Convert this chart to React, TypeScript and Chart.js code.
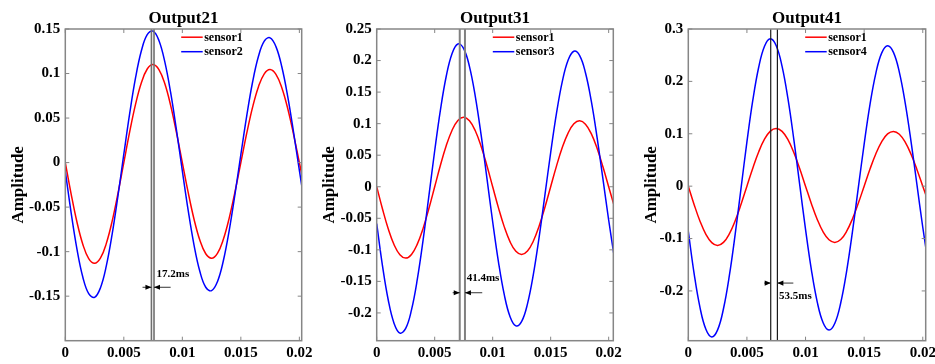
import { useEffect, useRef } from 'react';
import { Chart, registerables } from 'chart.js';

Chart.register(...registerables);

const SERIF = '"Liberation Serif", "Times New Roman", serif';

// Sample times in seconds
const time = [
  0, 0.0005, 0.001, 0.0015, 0.002, 0.0025, 0.003, 0.0035, 0.004, 0.0045,
  0.005, 0.0055, 0.006, 0.0065, 0.007, 0.0075, 0.008, 0.0085, 0.009, 0.0095,
  0.01, 0.0105, 0.011, 0.0115, 0.012, 0.0125, 0.013, 0.0135, 0.014, 0.0145,
  0.015, 0.0155, 0.016, 0.0165, 0.017, 0.0175, 0.018, 0.0185, 0.019, 0.0195,
  0.02, 0.0205,
];

// Reference sensor, shared by all three outputs
const sensor1 = [
  0, -0.0353, -0.067, -0.0919, -0.1078, -0.1131, -0.1073, -0.091, -0.066, -0.0346,
  0, 0.0344, 0.0653, 0.0896, 0.1051, 0.1102, 0.1045, 0.0887, 0.0643, 0.0337,
  0, -0.0335, -0.0636, -0.0873, -0.1024, -0.1074, -0.1019, -0.0864, -0.0626, -0.0328,
  0, 0.0327, 0.062, 0.085, 0.0997, 0.1045, 0.0991, 0.0841, 0.061, 0.032,
  0, -0.0318,
];

const sensor2 = [
  -0.0096, -0.0564, -0.0974, -0.1287, -0.1472, -0.1513, -0.1407, -0.1163, -0.0806, -0.0373,
  0.0094, 0.055, 0.095, 0.1255, 0.1436, 0.1476, 0.1371, 0.1133, 0.0787, 0.0364,
  -0.0092, -0.0536, -0.0926, -0.1223, -0.14, -0.1438, -0.1337, -0.1105, -0.0766, -0.0355,
  0.0089, 0.0522, 0.0902, 0.1191, 0.1364, 0.1401, 0.1302, 0.1076, 0.0746, 0.0345,
  -0.0087, -0.0508,
];

const sensor3 = [
  -0.0584, -0.1254, -0.1799, -0.2166, -0.2319, -0.2245, -0.1952, -0.147, -0.0847, -0.0144,
  0.057, 0.1224, 0.1755, 0.2113, 0.2262, 0.219, 0.1904, 0.1434, 0.0826, 0.0141,
  -0.0555, -0.1193, -0.1711, -0.206, -0.2205, -0.2134, -0.1856, -0.1397, -0.0805, -0.0137,
  0.0541, 0.1162, 0.1667, 0.2006, 0.2148, 0.2079, 0.1807, 0.136, 0.0784, 0.0133,
  -0.0527, -0.1131,
];

const sensor4 = [
  -0.0863, -0.1675, -0.2319, -0.2733, -0.2879, -0.2744, -0.234, -0.171, -0.0916, -0.0036,
  0.0844, 0.1636, 0.2265, 0.2671, 0.2813, 0.268, 0.2286, 0.167, 0.0894, 0.0035,
  -0.0824, -0.1598, -0.2212, -0.2607, -0.2746, -0.2617, -0.2231, -0.163, -0.0873, -0.0034,
  0.0804, 0.156, 0.2158, 0.2544, 0.268, 0.2553, 0.2177, 0.1591, 0.0852, 0.0033,
  -0.0784, -0.1521,
];

// Axis ticks
const xTicks = [0, 0.005, 0.01, 0.015, 0.02];
const yTicks21 = [-0.15, -0.1, -0.05, 0, 0.05, 0.1, 0.15];
const yTicks31 = [-0.2, -0.15, -0.1, -0.05, 0, 0.05, 0.1, 0.15, 0.2, 0.25];
const yTicks41 = [-0.2, -0.1, 0, 0.1, 0.2, 0.3];

// Peak times marked by the vertical cursors (s)
const peaks21 = [0.00736, 0.00758];
const peaks31 = [0.00716, 0.00761];
const peaks41 = [0.00703, 0.0076];

const delay21 = '17.2ms';
const delay31 = '41.4ms';
const delay41 = '53.5ms';

type PanelDef = {
  title: string;
  name: string;
  values: number[];
  yTicks: number[];
  peaks: number[];
  delay: string;
  xMax: number;
  yMin: number;
  yMax: number;
  // layout (px)
  plotLeft: number;
  plotRight: number;
  ylabelPad: number;
  cursorColor: string;
  cursorWidth: number;
  // annotation placement (data units)
  arrowY: number;
  tailL: number;
  tailR: number;
  textX: number;
  textY: number;
};

const PLOT_TOP = 29;
const PLOT_BOTTOM = 340.7;
const HEIGHT = 364;
const Y_AXIS_W = 62;
const RIGHT_PAD = 30;

const panels: PanelDef[] = [
  {
    title: 'Output21', name: 'sensor2', values: sensor2, yTicks: yTicks21, peaks: peaks21, delay: delay21,
    xMax: 0.0202, yMin: -0.2, yMax: 0.15,
    plotLeft: 65.3, plotRight: 301.7, ylabelPad: 7.5,
    cursorColor: '#6f6f6f', cursorWidth: 1.6,
    arrowY: -0.14, tailL: 0.0066, tailR: 0.009, textX: 0.0078, textY: -0.125,
  },
  {
    title: 'Output31', name: 'sensor3', values: sensor3, yTicks: yTicks31, peaks: peaks31, delay: delay31,
    xMax: 0.0204, yMin: -0.244, yMax: 0.25,
    plotLeft: 376.7, plotRight: 613.3, ylabelPad: 7.5,
    cursorColor: '#808080', cursorWidth: 2,
    arrowY: -0.168, tailL: 0.00655, tailR: 0.0091, textX: 0.00776, textY: -0.1443,
  },
  {
    title: 'Output41', name: 'sensor4', values: sensor4, yTicks: yTicks41, peaks: peaks41, delay: delay41,
    xMax: 0.02025, yMin: -0.295, yMax: 0.3,
    plotLeft: 688.3, plotRight: 925.7, ylabelPad: 17,
    cursorColor: '#1a1a1a', cursorWidth: 1.2,
    arrowY: -0.185, tailL: 0.00648, tailR: 0.00896, textX: 0.00774, textY: -0.21,
  },
];

const fmt = (v: number) => String(v);

function arrowHead(ctx: CanvasRenderingContext2D, tipX: number, y: number, dir: number) {
  ctx.beginPath();
  ctx.moveTo(tipX, y);
  ctx.lineTo(tipX - dir * 6, y - 2.6);
  ctx.lineTo(tipX - dir * 6, y + 2.6);
  ctx.closePath();
  ctx.fill();
}

function makeDecor(p: PanelDef) {
  return {
    id: 'decor',
    afterDraw(chart: any) {
      const { ctx, chartArea: a, scales } = chart;
      const xs = scales.x;
      const ys = scales.y;
      ctx.save();

      // axes box and inward tick marks
      ctx.strokeStyle = '#868686';
      ctx.lineWidth = 1.5;
      ctx.strokeRect(a.left, a.top, a.right - a.left, a.bottom - a.top);
      ctx.lineWidth = 1;
      ctx.beginPath();
      for (const v of xTicks) {
        const px = xs.getPixelForValue(v);
        ctx.moveTo(px, a.bottom);
        ctx.lineTo(px, a.bottom - 4);
        ctx.moveTo(px, a.top);
        ctx.lineTo(px, a.top + 4);
      }
      for (const v of p.yTicks) {
        const py = ys.getPixelForValue(v);
        ctx.moveTo(a.left, py);
        ctx.lineTo(a.left + 4, py);
        ctx.moveTo(a.right, py);
        ctx.lineTo(a.right - 4, py);
      }
      ctx.stroke();

      // title
      ctx.fillStyle = '#000';
      ctx.font = `bold 17px ${SERIF}`;
      ctx.textAlign = 'center';
      ctx.textBaseline = 'alphabetic';
      ctx.fillText(p.title, (a.left + a.right) / 2, 22.5);

      // legend
      const rows = [
        { label: 'sensor1', color: '#ff0000', y: 37.2 },
        { label: p.name, color: '#0000ff', y: 51.7 },
      ];
      ctx.font = `bold 12px ${SERIF}`;
      ctx.textAlign = 'left';
      ctx.textBaseline = 'middle';
      for (const r of rows) {
        ctx.strokeStyle = r.color;
        ctx.lineWidth = 1.5;
        ctx.beginPath();
        ctx.moveTo(a.right - 120.5, r.y);
        ctx.lineTo(a.right - 99, r.y);
        ctx.stroke();
        ctx.fillText(r.label, a.right - 97.5, r.y + 0.5);
      }

      // delay arrows between the two cursors
      const y = ys.getPixelForValue(p.arrowY);
      const x1 = xs.getPixelForValue(p.peaks[0]);
      const x2 = xs.getPixelForValue(p.peaks[1]);
      const tl = xs.getPixelForValue(p.tailL);
      const tr = xs.getPixelForValue(p.tailR);
      ctx.strokeStyle = '#333';
      ctx.lineWidth = 1;
      ctx.beginPath();
      ctx.moveTo(tl, y);
      ctx.lineTo(x1, y);
      ctx.moveTo(tr, y);
      ctx.lineTo(x2, y);
      ctx.stroke();
      ctx.fillStyle = '#000';
      arrowHead(ctx, x1, y, 1);
      arrowHead(ctx, x2, y, -1);

      ctx.font = `bold 11px ${SERIF}`;
      ctx.textAlign = 'left';
      ctx.textBaseline = 'middle';
      ctx.fillText(p.delay, xs.getPixelForValue(p.textX), ys.getPixelForValue(p.textY));

      ctx.restore();
    },
  };
}

function Panel({ p }: { p: PanelDef }) {
  const ref = useRef<HTMLCanvasElement>(null);
  const canvasLeft = Math.floor(p.plotLeft) - Y_AXIS_W;
  const yAxisW = p.plotLeft - canvasLeft;
  const canvasW = Math.ceil(p.plotRight - canvasLeft + RIGHT_PAD);
  const padRight = canvasW - (p.plotRight - canvasLeft);

  useEffect(() => {
    const tickFont = { family: SERIF, size: 15, weight: 'bold' as const, lineHeight: 1.2 };
    const curve = (vals: number[]) => time.map((t, i) => ({ x: t, y: vals[i] }));
    const cursors = p.peaks.map((t) => ({
      data: [{ x: t, y: p.yMin }, { x: t, y: p.yMax }],
      borderColor: p.cursorColor,
      borderWidth: p.cursorWidth,
      pointRadius: 0,
      tension: 0,
    }));

    const chart = new Chart(ref.current as HTMLCanvasElement, {
      type: 'line',
      data: {
        datasets: [
          ...cursors,
          { label: p.name, data: curve(p.values), borderColor: '#0000ff', borderWidth: 1.5, pointRadius: 0, tension: 0.4 },
          { label: 'sensor1', data: curve(sensor1), borderColor: '#ff0000', borderWidth: 1.5, pointRadius: 0, tension: 0.4 },
        ],
      },
      options: {
        animation: false,
        responsive: false,
        devicePixelRatio: 1,
        events: [],
        layout: { padding: { left: 0, top: PLOT_TOP, right: padRight, bottom: 0 } },
        plugins: {
          legend: { display: false },
          title: { display: false },
          tooltip: { enabled: false },
        },
        scales: {
          x: {
            type: 'linear',
            min: 0,
            max: p.xMax,
            grid: { display: false, drawTicks: false },
            border: { display: false },
            ticks: {
              padding: 3,
              maxRotation: 0,
              autoSkip: false,
              color: '#000',
              font: tickFont,
              callback: (v: any) => fmt(Number(v)),
            },
            afterBuildTicks: (s: any) => {
              s.ticks = xTicks.map((v) => ({ value: v }));
            },
            afterFit: (s: any) => {
              s.height = HEIGHT - PLOT_BOTTOM;
              s.paddingLeft = 0;
              s.paddingRight = 0;
            },
          },
          y: {
            type: 'linear',
            min: p.yMin,
            max: p.yMax,
            grid: { display: false, drawTicks: false },
            border: { display: false },
            ticks: {
              padding: 5,
              autoSkip: false,
              color: '#000',
              font: tickFont,
              callback: (v: any) => fmt(Number(v)),
            },
            afterBuildTicks: (s: any) => {
              s.ticks = p.yTicks.map((v) => ({ value: v }));
            },
            afterFit: (s: any) => {
              s.width = yAxisW;
              s.paddingTop = 0;
              s.paddingBottom = 0;
            },
            title: {
              display: true,
              text: 'Amplitude',
              color: '#000',
              font: { family: SERIF, size: 17, weight: 'bold', lineHeight: 1 },
              padding: { top: p.ylabelPad, bottom: 0 },
            },
          },
        },
      },
      plugins: [makeDecor(p)],
    } as any);
    return () => chart.destroy();
  }, []);

  return (
    <canvas
      ref={ref}
      width={canvasW}
      height={HEIGHT}
      style={{ position: 'absolute', left: canvasLeft, top: 0, width: canvasW, height: HEIGHT }}
    />
  );
}

export default function App() {
  return (
    <div
      style={{
        position: 'fixed',
        left: 0,
        top: 0,
        width: 935,
        height: HEIGHT,
        overflow: 'hidden',
        background: '#fff',
      }}
    >
      {panels.map((p) => (
        <Panel key={p.title} p={p} />
      ))}
    </div>
  );
}
